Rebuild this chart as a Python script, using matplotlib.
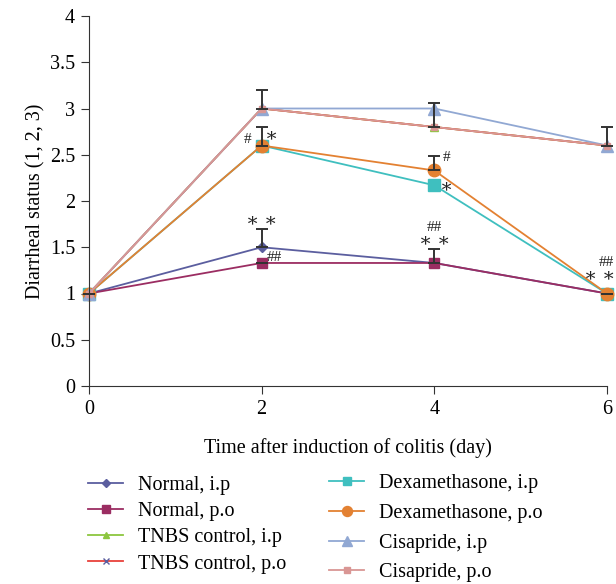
# Diarrheal status over time after colitis induction
import matplotlib
matplotlib.use("Agg")
import matplotlib.pyplot as plt

plt.rcParams['font.family'] = ['Liberation Serif', 'DejaVu Serif']

days = [0, 2, 4, 6]

normal_ip = [1, 1.5, 1.33, 1]
normal_po = [1, 1.33, 1.33, 1]
tnbs_ip = [1, 3, 2.8, 2.6]
tnbs_po = [1, 3, 2.8, 2.6]
dexa_ip = [1, 2.6, 2.17, 1]
dexa_po = [1, 2.6, 2.33, 1]
cisa_ip = [1, 3, 3, 2.6]
cisa_po = [1, 3, 2.8, 2.6]

# upper error bars (only the ones visible in the figure)
err_normal_ip = [0, 0.2, 0, 0]
err_normal_po = [0, 0, 0.15, 0]
err_tnbs_po = [0, 0.2, 0.26, 0.2]
err_dexa_po = [0, 0.2, 0.16, 0]

series = [
    ("Normal, i.p", normal_ip, "#5b5e9f", "D", 5),
    ("Normal, p.o", normal_po, "#9b2d62", "s", 7),
    ("TNBS control, i.p", tnbs_ip, "#8cc63f", "^", 6),
    ("TNBS control, p.o", tnbs_po, "#e8413c", "x", 5),
    ("Dexamethasone, i.p", dexa_ip, "#3fbfbf", "s", 8),
    ("Dexamethasone, p.o", dexa_po, "#e38132", "o", 9),
    ("Cisapride, i.p", cisa_ip, "#91a8d3", "^", 9),
    ("Cisapride, p.o", cisa_po, "#d99694", "s", 5),
]

fig = plt.figure(figsize=(6.16, 5.84), dpi=100)
ax = fig.add_axes([89/616, 1-386/584, (607-89)/616, (386-16)/584])

lines = []
for name, vals, col, mk, ms in series:
    mec = "#5b5e9f" if mk == "x" else col
    ln, = ax.plot(days, vals, color=col, marker=mk, markersize=ms, lw=1.3,
                  markeredgecolor=mec, label=name, clip_on=False)
    lines.append(ln)

for vals, err in [(normal_ip, err_normal_ip), (normal_po, err_normal_po),
                  (tnbs_po, err_tnbs_po), (dexa_po, err_dexa_po)]:
    lower = [0] * len(err)
    ax.errorbar(days, vals, yerr=[lower, err], fmt='none', ecolor='#333333',
                elinewidth=1.4, capsize=4, capthick=1.4, clip_on=False)

# significance marks
fs = 14
marks = [
    (1.84, 2.67, "#", 11), (2.12, 2.70, "∗", fs),
    (2.0, 1.78, "∗ ∗", fs), (2.15, 1.39, "##", 11),
    (4.14, 2.47, "#", 11), (4.14, 2.15, "∗", fs),
    (4.0, 1.71, "##", 11), (4.0, 1.56, "∗ ∗", fs),
    (5.99, 1.33, "##", 11), (5.92, 1.18, "∗ ∗", fs),
]
for x, y, s, size in marks:
    ax.text(x, y, s, ha='center', va='center', fontsize=size, color='#222222')

ax.set_xlim(0, 6)
ax.set_ylim(0, 4)
ax.set_xticks([0, 2, 4, 6])
ax.set_yticks([0, 0.5, 1, 1.5, 2, 2.5, 3, 3.5, 4])
ax.set_yticklabels(["0", "0.5", "1", "1.5", "2", "2.5", "3", "3.5", "4"])
ax.spines['top'].set_visible(False)
ax.spines['right'].set_visible(False)
for sp in ax.spines.values():
    sp.set_color('#333333')
ax.tick_params(direction='out', length=6, color='#333333', labelsize=14.5, pad=4)
ax.set_xlabel("Time after induction of colitis (day)", fontsize=14.5, labelpad=14)
ax.set_ylabel("Diarrheal status (1, 2, 3)", fontsize=14.5, labelpad=3)

leg_kw = dict(loc='upper left', frameon=False, fontsize=14.5, borderpad=0,
              borderaxespad=0, handlelength=1.75, handletextpad=0.75,
              markerscale=0.8)
leg1 = fig.legend(lines[:4], [s[0] for s in series[:4]],
                  bbox_to_anchor=(88/616, 1-476/584), labelspacing=0.35, **leg_kw)
leg2 = fig.legend(lines[4:], [s[0] for s in series[4:]],
                  bbox_to_anchor=(329/616, 1-474/584), labelspacing=0.53, **leg_kw)

fig.savefig("out.png", dpi=100)
